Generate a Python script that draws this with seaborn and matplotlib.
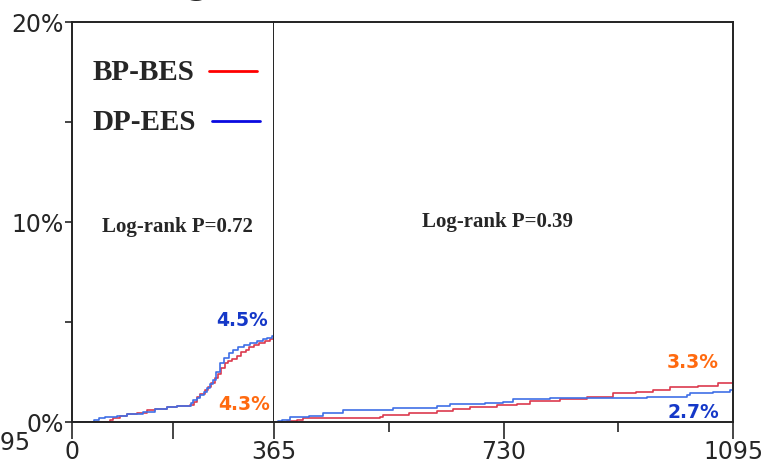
import numpy as np
import pandas as pd
import matplotlib
matplotlib.use('Agg')
from matplotlib import pyplot as plt
import seaborn as sns

# cumulative event rate (%), landmark at 365 days
bp_t1 = [0, 68, 74, 86, 100, 118, 135, 150, 171, 190, 213, 220, 225, 232, 240, 246, 252, 258,
         264, 270, 276, 282, 290, 298, 306, 314, 320, 328, 338, 348, 358, 365]
bp_v1 = [0, 0.1, 0.2, 0.3, 0.38, 0.45, 0.6, 0.65, 0.75, 0.8, 0.85, 1.0, 1.25, 1.4, 1.6, 1.75, 1.95, 2.2,
         2.4, 2.7, 2.95, 3.05, 3.15, 3.3, 3.5, 3.6, 3.75, 3.85, 3.95, 4.05, 4.15, 4.2]
dp_t1 = [0, 40, 48, 60, 81, 100, 128, 150, 171, 190, 208, 215, 219, 225, 231, 238, 244, 250,
         255, 260, 267, 274, 283, 291, 300, 310, 322, 335, 345, 352, 362, 365]
dp_v1 = [0, 0.1, 0.18, 0.25, 0.3, 0.4, 0.5, 0.65, 0.73, 0.78, 0.8, 0.95, 1.1, 1.2, 1.35, 1.5, 1.7, 1.9,
         2.1, 2.5, 2.95, 3.2, 3.45, 3.6, 3.75, 3.85, 3.95, 4.05, 4.15, 4.2, 4.3, 4.4]

bp_t2 = [365, 385, 402, 411, 450, 534, 539, 580, 624, 650, 677, 720, 751, 772, 820, 863, 904, 940,
         968, 995, 1040, 1071, 1095]
bp_v2 = [0, 0.05, 0.1, 0.18, 0.2, 0.23, 0.35, 0.45, 0.57, 0.65, 0.77, 0.85, 0.9, 1.07, 1.15, 1.23, 1.43, 1.5,
         1.6, 1.73, 1.8, 1.93, 1.95]
dp_t2 = [365, 372, 377, 390, 420, 443, 475, 554, 600, 624, 645, 700, 729, 745, 804, 899, 958, 1022,
         1027, 1063, 1090, 1095]
dp_v2 = [0, 0.05, 0.1, 0.23, 0.3, 0.43, 0.6, 0.68, 0.72, 0.8, 0.9, 0.95, 1.0, 1.13, 1.18, 1.2, 1.27, 1.35,
         1.47, 1.5, 1.6, 1.63]

pvals = ['Log-rank P=0.72', 'Log-rank P=0.39']
end_labels = [('4.5%', '4.3%'), ('3.3%', '2.7%')]

sns.set_style('ticks')
plt.rcParams['font.family'] = ['DejaVu Sans']

red = '#dc3a4e'
blue = '#3f6fe6'
lab_orange = '#ff6a10'
lab_blue = '#1538c8'

fig = plt.figure(figsize=(7.66, 4.65), dpi=100)
ax1 = fig.add_axes([72/766, 43/465, 202/766, 400/465])
ax2 = fig.add_axes([274/766, 43/465, 459/766, 400/465])

sns.lineplot(x=bp_t1, y=bp_v1, ax=ax1, color=red, lw=1.2, drawstyle='steps-post', estimator=None)
sns.lineplot(x=dp_t1, y=dp_v1, ax=ax1, color=blue, lw=1.2, drawstyle='steps-post', estimator=None)
sns.lineplot(x=bp_t2, y=bp_v2, ax=ax2, color=red, lw=1.2, drawstyle='steps-post', estimator=None)
sns.lineplot(x=dp_t2, y=dp_v2, ax=ax2, color=blue, lw=1.2, drawstyle='steps-post', estimator=None)

ax1.set_xlim(0, 365)
ax2.set_xlim(365, 1095)
for ax in (ax1, ax2):
    ax.set_ylim(0, 20)
    for s in ax.spines.values():
        s.set_color('#222222')
        s.set_linewidth(1.4)
    ax.set_xlabel('')
    ax.set_ylabel('')

ax1.set_yticks([0, 10, 20])
ax1.set_yticklabels(['0%', '10%', '20%'], fontsize=17)
ax1.set_yticks([5, 15], minor=True)
ax1.tick_params(axis='y', which='both', length=5, width=1.2, pad=1)
ax1.set_xticks([0, 182.5, 365])
ax1.set_xticklabels(['0', '', '365'], fontsize=17)
ax1.tick_params(axis='x', length=12, width=1.2, pad=1)

ax2.spines['left'].set_visible(False)
ax2.set_yticks([])
ax2.set_xticks([730, 1095])
ax2.set_xticklabels(['730', '1095'], fontsize=17)
ax2.set_xticks([547.5, 912.5], minor=True)
ax2.tick_params(axis='x', which='major', length=12, width=1.2, pad=1)
ax2.tick_params(axis='x', which='minor', length=7, width=1.2)

# legend drawn by hand, text first then line
serif = ['Liberation Serif', 'DejaVu Serif']
ax1.text(0.1, 0.874, 'BP-BES', transform=ax1.transAxes, fontsize=21, fontweight='bold',
         family=serif, va='center', ha='left')
ax1.plot([0.678, 0.916], [0.877, 0.877], transform=ax1.transAxes, color='#ff0000', lw=2)
ax1.text(0.1, 0.749, 'DP-EES', transform=ax1.transAxes, fontsize=21, fontweight='bold',
         family=serif, va='center', ha='left')
ax1.plot([0.693, 0.93], [0.752, 0.752], transform=ax1.transAxes, color='#0a0ae0', lw=2)

ax1.text(0.52, 0.488, pvals[0], transform=ax1.transAxes, fontsize=15, fontweight='bold',
         family=serif, ha='center', va='center')
ax2.text(0.488, 0.5, pvals[1], transform=ax2.transAxes, fontsize=15, fontweight='bold',
         family=serif, ha='center', va='center')

ax1.text(0.84, 0.253, end_labels[0][0], transform=ax1.transAxes, fontsize=13.5, fontweight='bold',
         color=lab_blue, ha='center', va='center')
ax1.text(0.85, 0.045, end_labels[0][1], transform=ax1.transAxes, fontsize=13.5, fontweight='bold',
         color=lab_orange, ha='center', va='center')
ax2.text(0.913, 0.15, end_labels[1][0], transform=ax2.transAxes, fontsize=13.5, fontweight='bold',
         color=lab_orange, ha='center', va='center')
ax2.text(0.913, 0.025, end_labels[1][1], transform=ax2.transAxes, fontsize=13.5, fontweight='bold',
         color=lab_blue, ha='center', va='center')

# pieces of neighbouring panel / title clipped by the crop
fig.text(31/766, 22/465, '1095', fontsize=17, ha='right', va='center')
fig.text(197/766, 1.012, 'g', fontsize=24, fontweight='bold', ha='center', va='baseline')

fig.savefig('out.png', dpi=100)
